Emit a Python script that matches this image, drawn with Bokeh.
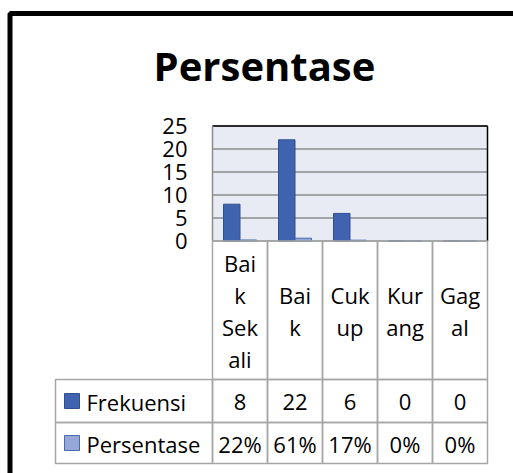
from bokeh.plotting import figure
from bokeh.models import Range1d
from bokeh.core.properties import value
from bokeh.embed import file_html
from bokeh.resources import INLINE

# ---- data ----
title_text = "Persentase"
categories = ["Baik Sekali", "Baik", "Cukup", "Kurang", "Gagal"]
category_lines = [["Bai", "k", "Sek", "ali"], ["Bai", "k"], ["Cuk", "up"], ["Kur", "ang"], ["Gag", "al"]]
series_names = ["Frekuensi", "Persentase"]
frekuensi = [8, 22, 6, 0, 0]
persentase = [0.22, 0.61, 0.17, 0.0, 0.0]
y_ticks = [0, 5, 10, 15, 20, 25]

# ---- style ----
FONT = "Open Sans"
FREK_FILL, FREK_LINE = "#3F63AE", "#2F5090"
PERS_FILL, PERS_LINE = "#95A7D7", "#4A69AE"
GRID = "#8C8C8C"
CELL = "#A6A6A6"
W, H = 513, 473
n = len(categories)
y_max = y_ticks[-1]

# chart plot-area placement on the canvas (pixels)
FX0, FX1 = 212, 487
FY0, FY1 = 240.5, 125.5
CAT_PX = (FX1 - FX0) / n
UNIT_PX = (FY0 - FY1) / y_max

def dx(px):
    return (px - FX0) / CAT_PX

def dy(py):
    return (FY0 - py) / UNIT_PX

p = figure(width=W, height=H, output_backend="svg", toolbar_location=None,
           x_range=Range1d(dx(0), dx(W)), y_range=Range1d(dy(H), dy(0)),
           x_axis_location=None, y_axis_location=None, min_border=0,
           background_fill_color="white", border_fill_color="white")
p.outline_line_color = None
p.grid.visible = False

# plot area background
p.quad(left=[0], right=[n], bottom=[0], top=[y_max], fill_color="#E8EAF4", line_color=None)
# gridlines
p.segment(x0=[0] * len(y_ticks), x1=[n] * len(y_ticks), y0=y_ticks, y1=y_ticks,
          line_color=GRID, line_width=1.5)
# bars
xs = list(range(n))
p.vbar(x=[i + 0.35 for i in xs], top=frekuensi, width=0.3, bottom=0,
       fill_color=FREK_FILL, line_color=FREK_LINE, line_width=1)
p.vbar(x=[i + 0.65 for i in xs], top=persentase, width=0.3, bottom=0,
       fill_color=PERS_FILL, line_color=PERS_LINE, line_width=1)
# plot area frame: top/right dark, left gray
p.segment(x0=[0, n], x1=[n, n], y0=[y_max, y_max], y1=[y_max, 0], line_color="black", line_width=1.5)
p.segment(x0=[0], x1=[0], y0=[0], y1=[y_max], line_color=GRID, line_width=1.5)

# y tick labels
p.text(x=[dx(187)] * len(y_ticks), y=y_ticks, text=[str(t) for t in y_ticks],
       text_align="right", text_baseline="middle", text_font=value(FONT),
       text_font_size="22px", text_color="black")

def box(l, r, t, b, **kw):
    args = dict(fill_color=None, line_color=CELL, line_width=1.5)
    args.update(kw)
    p.quad(left=[dx(l)], right=[dx(r)], top=[dy(t)], bottom=[dy(b)], **args)

def label(x, y, text, align="center", size="22px", style="normal", baseline="middle"):
    p.text(x=[dx(x)], y=[dy(y)], text=[text], text_align=align, text_baseline=baseline,
           text_font=value(FONT), text_font_size=size, text_font_style=style,
           text_color="black")

# outer chart border
box(9.5, 900, 13, 900, line_color="black", line_width=5)

# title
label(264, 65, title_text, size="40px", style="bold")

# data table
HDR_TOP, HDR_BOT = FY0, 379
ROW1_BOT, ROW2_BOT = 422, 463
LEG_L = 55
for i in range(n):
    l = FX0 + CAT_PX * i
    r = l + CAT_PX
    cx = (l + r) / 2
    box(l, r, HDR_TOP, HDR_BOT)
    box(l, r, HDR_BOT, ROW1_BOT)
    box(l, r, ROW1_BOT, ROW2_BOT)
    lines = category_lines[i]
    m = len(lines)
    for j, t in enumerate(lines):
        label(cx, 310 + (j - (m - 1) / 2) * 32, t)
    label(cx, (HDR_BOT + ROW1_BOT) / 2 + 1, str(frekuensi[i]))
    label(cx, (ROW1_BOT + ROW2_BOT) / 2 + 1, f"{round(persentase[i] * 100)}%")

box(LEG_L, FX0, HDR_BOT, ROW1_BOT)
box(LEG_L, FX0, ROW1_BOT, ROW2_BOT)
box(64, 79, 393, 408, fill_color=FREK_FILL, line_color=FREK_LINE, line_width=1)
box(64, 79, 435, 450, fill_color=PERS_FILL, line_color=PERS_LINE, line_width=1)
label(86, (HDR_BOT + ROW1_BOT) / 2 + 1, series_names[0], align="left")
label(86, (ROW1_BOT + ROW2_BOT) / 2 + 1, series_names[1], align="left")

open("out.html", "w").write(file_html(p, INLINE))
